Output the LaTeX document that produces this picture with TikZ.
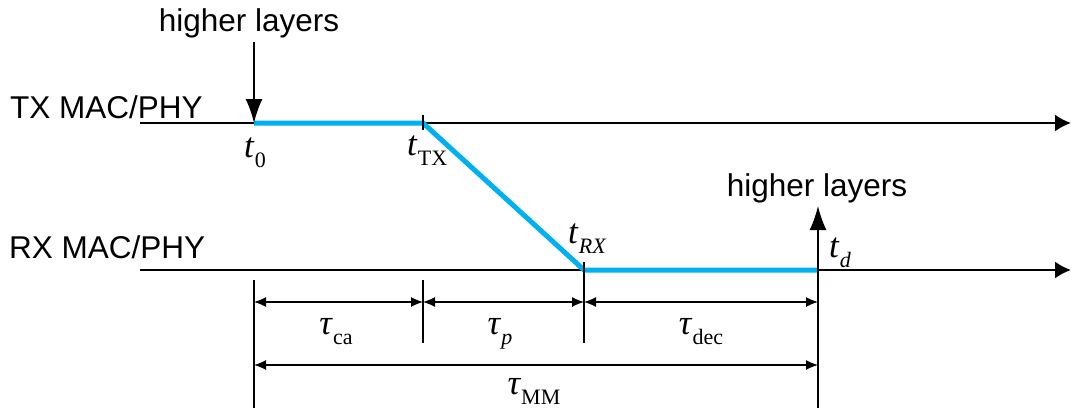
\documentclass[tikz,border=0pt]{standalone}
\usepackage{fontspec}
\setmainfont{Liberation Sans}
\newfontfamily\tnr{Liberation Serif}
\usetikzlibrary{arrows.meta}
\definecolor{sigblue}{RGB}{0,176,240}
\newcommand\tlab[2]{{\tnr\itshape #1}\kern0.03em\raisebox{-0.3em}{\fontsize{22}{22}\selectfont\tnr #2}}
\begin{document}
\begin{tikzpicture}[x=1pt,y=-1pt,
  axis/.style={line width=2pt,-{Latex[length=16pt,width=17pt]}},
  layerarrow/.style={line width=1.6pt,-{Latex[length=24pt,width=17pt]}},
  sig/.style={line width=5pt,sigblue,line join=miter},
  tick/.style={line width=1.4pt},
  dim/.style={line width=1.2pt,{Latex[length=12pt,width=10pt]}-{Latex[length=12pt,width=10pt]}},
  big/.style={font=\fontsize{31.5}{36}\selectfont},
  lab/.style={font=\fontsize{35}{40}\selectfont,inner sep=0pt}]
\useasboundingbox (0,0) rectangle (1071,412);
% axes
\coordinate (txs) at (140,123);
\coordinate (txe) at (1071,123);
\coordinate (rxs) at (140,270);
\coordinate (rxe) at (1071,270);
\draw[axis] (txs) -- (txe);
\draw[axis] (rxs) -- (rxe);
% key points
\coordinate (t0) at (254,123);
\coordinate (tTX) at (423,123);
\coordinate (tRX) at (584,270);
\coordinate (td) at (818,270);
% signal
\draw[sig] (t0) -- (tTX) -- (tRX) -- (td);
% higher layer arrows
\node[big,anchor=base] (hl1) at (249,32) {higher layers};
\coordinate (hl1a) at (254,42);
\draw[layerarrow] (hl1a) -- (t0);
\node[big,anchor=base] (hl2) at (817,196) {higher layers};
\coordinate (hl2a) at (818,206);
\draw[layerarrow] (td) -- (hl2a);
% axis labels
\node[big,anchor=base west,inner sep=0pt] (txl) at (10,118) {TX MAC/PHY};
\node[big,anchor=base west,inner sep=0pt] (rxl) at (9,258) {RX MAC/PHY};
% ticks
\coordinate (tTXa) at (423,115);
\coordinate (tTXb) at (423,130);
\draw[tick] (tTXa) -- (tTXb);
\coordinate (tRXa) at (584,262);
% time labels
\node[lab,anchor=base west] (l0) at (244,157) {\tlab{t}{0}};
\node[lab,anchor=base west] (lTX) at (407,155) {\tlab{t}{TX}};
\node[lab,anchor=base west] (lRX) at (568,243) {\tlab{t}{\itshape RX}};
\node[lab,anchor=base west] (ld) at (829,257) {\tlab{t}{\itshape d}};
% extension lines
\coordinate (e1a) at (254,280); \coordinate (e1b) at (254,408);
\coordinate (e2a) at (423,280); \coordinate (e2b) at (423,343);
\coordinate (e3b) at (584,343);
\coordinate (e4b) at (818,408);
\draw[tick] (e1a) -- (e1b);
\draw[tick] (e2a) -- (e2b);
\draw[tick] (tRXa) -- (e3b);
\draw[tick] (td) -- (e4b);
% dimension arrows
\coordinate (d1) at (254,302); \coordinate (d2) at (423,302);
\coordinate (d3) at (584,302); \coordinate (d4) at (818,302);
\coordinate (m1) at (254,365); \coordinate (m2) at (818,365);
\draw[dim] (d1) -- (d2);
\draw[dim] (d2) -- (d3);
\draw[dim] (d3) -- (d4);
\draw[dim] (m1) -- (m2);
% tau labels
\node[lab,anchor=base] (tca) at (336,334) {\tlab{τ}{ca}};
\node[lab,anchor=base] (tp) at (500,334) {\tlab{τ}{\itshape p}};
\node[lab,anchor=base] (tdec) at (701,334) {\tlab{τ}{dec}};
\node[lab,anchor=base] (tmm) at (534,394) {\tlab{τ}{MM}};
\end{tikzpicture}
\end{document}
